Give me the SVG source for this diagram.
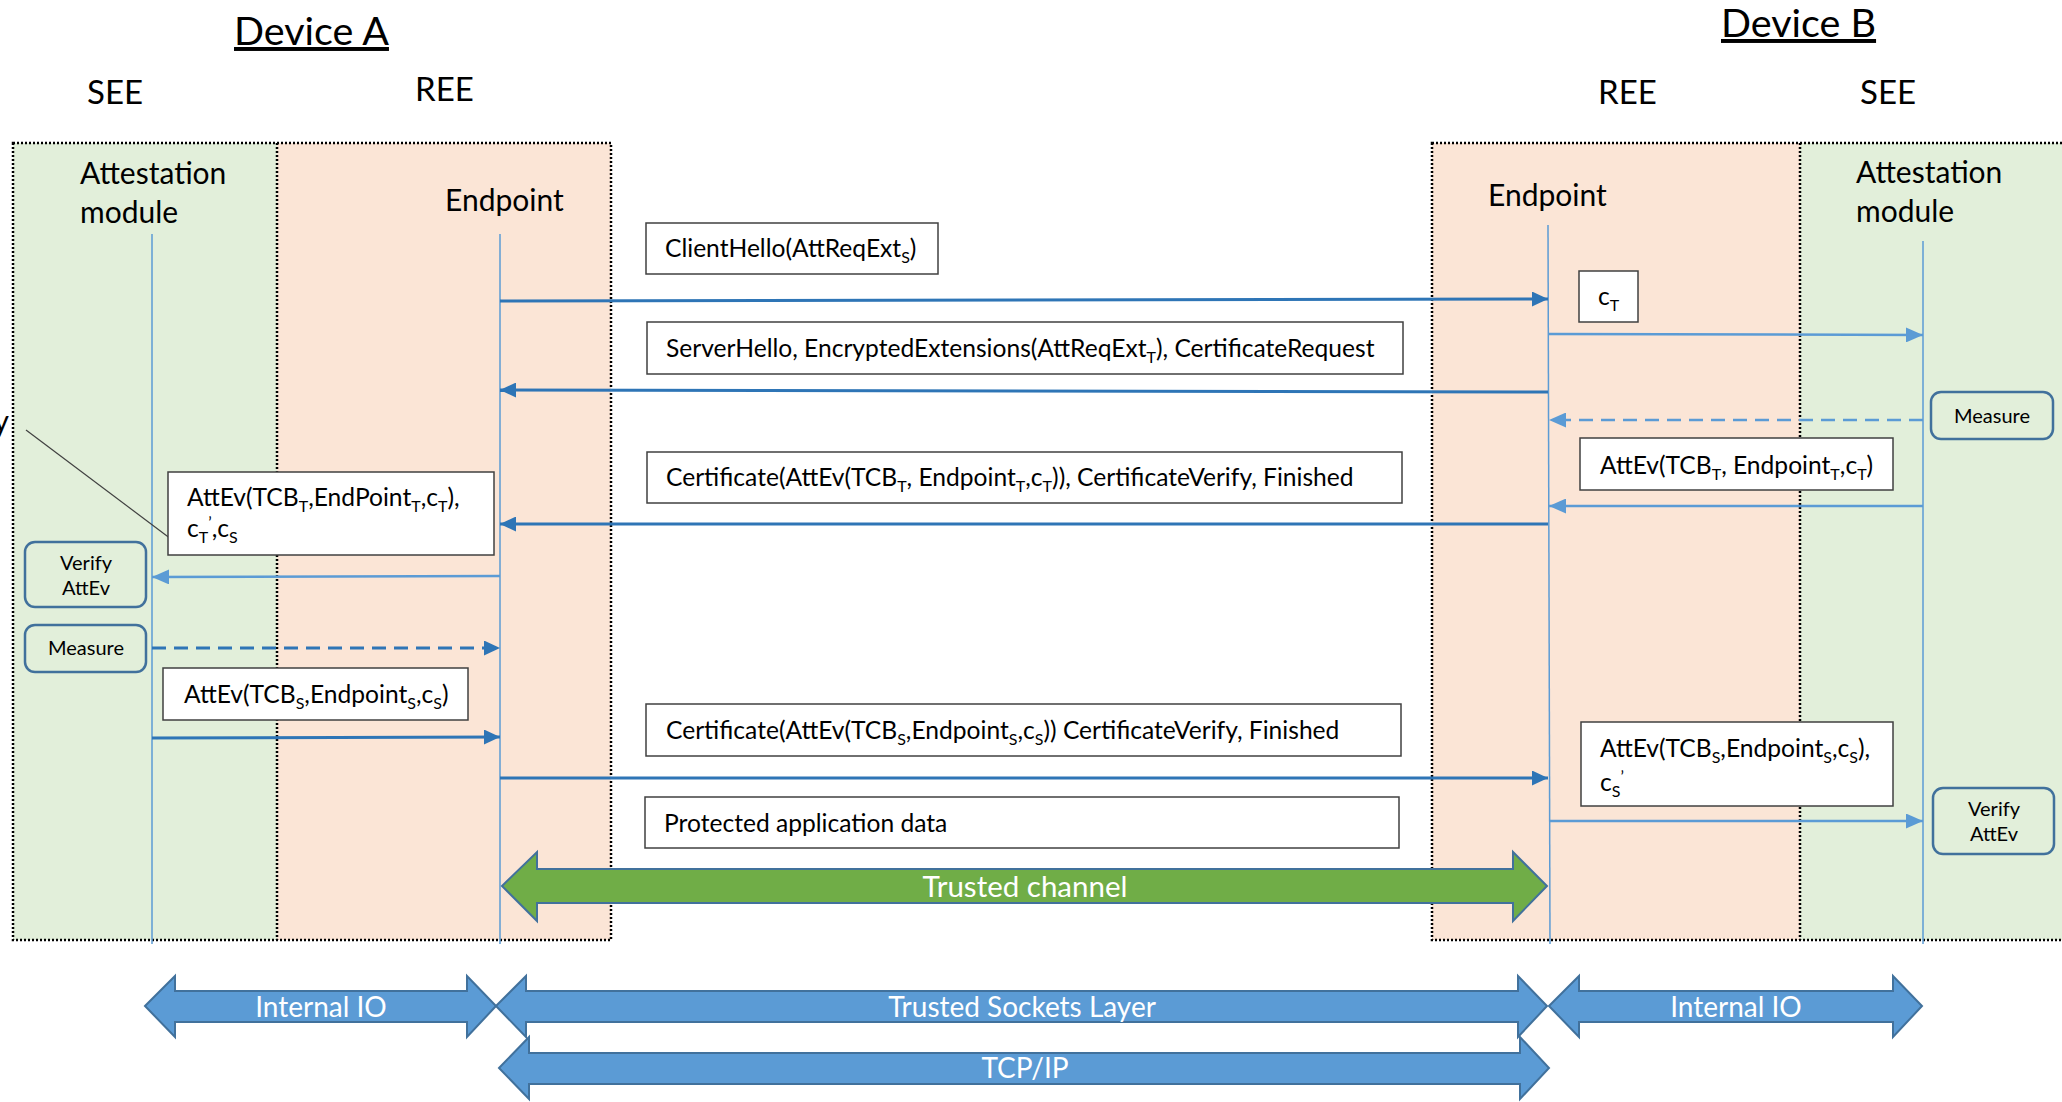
<svg xmlns="http://www.w3.org/2000/svg" width="2062" height="1102" viewBox="0 0 2062 1102">
<style>
text { font-family: Lato, "Open Sans", "Liberation Sans", sans-serif; fill: #000; }
.msg { font-size: 24.6px; }
.sub { font-size: 16px; }
.hdr { font-size: 33px; }
.dev { font-size: 39.5px; }
.lbl { font-size: 30px; }
.sm { font-size: 20px; }
.wt { fill: #fff; font-size: 28px; }
.box { fill: #fff; stroke: #404040; stroke-width: 1.5; }
.rbox { fill: #E2EFDA; stroke: #41719C; stroke-width: 2.5; }
.life { stroke: #5B9BD5; stroke-width: 1.5; fill: none; }
.dk { stroke: #2E75B6; stroke-width: 3; fill: none; }
.lt { stroke: #5B9BD5; stroke-width: 2.5; fill: none; }
.dash { stroke-dasharray: 14 8; }
.zone { fill: none; stroke: #000; stroke-width: 2.5; stroke-dasharray: 2 2; }
.big { fill: #5B9BD5; stroke: #41719C; stroke-width: 2; }
.grn { fill: #70AD47; stroke: #41719C; stroke-width: 2; }
</style>
<defs>
<marker id="ahDk" markerUnits="userSpaceOnUse" markerWidth="17" markerHeight="15" refX="16" refY="7.5" orient="auto">
<path d="M0,0 L16,7.5 L0,15 z" fill="#2E75B6"/>
</marker>
<marker id="ahLt" markerUnits="userSpaceOnUse" markerWidth="18" markerHeight="15" refX="17" refY="7.5" orient="auto">
<path d="M0,0 L17,7.5 L0,15 z" fill="#5B9BD5"/>
</marker>
</defs>

<g id="zones">
<rect x="13" y="143" width="264" height="797" fill="#E2EFDA"/>
<rect x="277" y="143" width="334" height="797" fill="#FBE5D6"/>
<rect x="13" y="143" width="598" height="797" class="zone"/>
<line x1="277" y1="143" x2="277" y2="940" class="zone"/>
<rect x="1432" y="143" width="368" height="797" fill="#FBE5D6"/>
<rect x="1800" y="143" width="270" height="797" fill="#E2EFDA"/>
<rect x="1432" y="143" width="650" height="797" class="zone"/>
<line x1="1800" y1="143" x2="1800" y2="940" class="zone"/>
</g>

<g id="headers">
<text x="234" y="45" class="dev" text-decoration="underline">Device A</text>
<text x="1721" y="37" class="dev" text-decoration="underline">Device B</text>
<text x="87" y="104" class="hdr">SEE</text>
<text x="415" y="101" class="hdr">REE</text>
<text x="1598" y="104" class="hdr">REE</text>
<text x="1860" y="104" class="hdr">SEE</text>
</g>

<g id="lifelines">
<g id="attA"><text x="80" y="184" class="lbl">Attestation</text><text x="80" y="223" class="lbl">module</text><line x1="152" y1="234" x2="152" y2="944" class="life"/></g>
<g id="epA"><text x="445" y="211" class="lbl">Endpoint</text><line x1="500" y1="234" x2="500" y2="944" class="life"/></g>
<g id="epB"><text x="1488" y="206" class="lbl">Endpoint</text><line x1="1548" y1="225" x2="1550" y2="944" class="life"/></g>
<g id="attB"><text x="1856" y="183" class="lbl">Attestation</text><text x="1856" y="222" class="lbl">module</text><line x1="1923" y1="241" x2="1923" y2="944" class="life"/></g>
</g>

<g id="connectors">
<line x1="500" y1="301" x2="1548" y2="299" class="dk" marker-end="url(#ahDk)"/>
<line x1="1548" y1="334" x2="1923" y2="335" class="lt" marker-end="url(#ahLt)"/>
<line x1="1548" y1="392" x2="500" y2="390" class="dk" marker-end="url(#ahDk)"/>
<line x1="1923" y1="420" x2="1549" y2="420" class="lt dash" marker-end="url(#ahLt)"/>
<line x1="1923" y1="506" x2="1549" y2="506" class="lt" marker-end="url(#ahLt)"/>
<line x1="1548" y1="524" x2="500" y2="524" class="dk" marker-end="url(#ahDk)"/>
<line x1="500" y1="576" x2="152" y2="577" class="lt" marker-end="url(#ahLt)"/>
<line x1="152" y1="648" x2="500" y2="648" class="dk dash" marker-end="url(#ahDk)"/>
<line x1="152" y1="738" x2="500" y2="737" class="dk" marker-end="url(#ahDk)"/>
<line x1="500" y1="778" x2="1548" y2="778" class="dk" marker-end="url(#ahDk)"/>
<line x1="1549" y1="821" x2="1923" y2="821" class="lt" marker-end="url(#ahLt)"/>
<line x1="26" y1="430" x2="171" y2="539" stroke="#404040" stroke-width="1.2"/>
</g>

<text x="9" y="432" class="lbl" text-anchor="end">y</text>

<g id="msg-clienthello">
<rect x="646" y="223" width="292" height="51" class="box"/>
<text x="665" y="257" class="msg">ClientHello(AttReqExt<tspan class="sub" baseline-shift="-6">S</tspan>)</text>
</g>
<g id="msg-ct">
<rect x="1579" y="271" width="59" height="51" class="box"/>
<text x="1598" y="305" class="msg">c<tspan class="sub" baseline-shift="-6">T</tspan></text>
</g>
<g id="msg-serverhello">
<rect x="647" y="322" width="756" height="52" class="box"/>
<text x="666" y="357" class="msg">ServerHello, EncryptedExtensions(AttReqExt<tspan class="sub" baseline-shift="-6">T</tspan>), CertificateRequest</text>
</g>
<g id="measureB">
<rect x="1931" y="392" width="122" height="47" rx="10" class="rbox"/>
<text x="1992" y="423" class="sm" text-anchor="middle">Measure</text>
</g>
<g id="msg-attevT-B">
<rect x="1580" y="438" width="313" height="52" class="box"/>
<text x="1600" y="474" class="msg">AttEv(TCB<tspan class="sub" baseline-shift="-6">T</tspan>, Endpoint<tspan class="sub" baseline-shift="-6">T</tspan>,c<tspan class="sub" baseline-shift="-6">T</tspan>)</text>
</g>
<g id="msg-attevT-A">
<rect x="168" y="472" width="326" height="83" class="box"/>
<text x="187" y="506" class="msg">AttEv(TCB<tspan class="sub" baseline-shift="-6">T</tspan>,EndPoint<tspan class="sub" baseline-shift="-6">T</tspan>,c<tspan class="sub" baseline-shift="-6">T</tspan>),</text>
<text x="187" y="537" class="msg">c<tspan class="sub" baseline-shift="-6">T</tspan><tspan class="sub" baseline-shift="9">’</tspan>,c<tspan class="sub" baseline-shift="-6">S</tspan></text>
</g>
<g id="msg-certT">
<rect x="647" y="452" width="755" height="51" class="box"/>
<text x="666" y="486" class="msg">Certificate(AttEv(TCB<tspan class="sub" baseline-shift="-6">T</tspan>, Endpoint<tspan class="sub" baseline-shift="-6">T</tspan>,c<tspan class="sub" baseline-shift="-6">T</tspan>)), CertificateVerify, Finished</text>
</g>
<g id="verifyA">
<rect x="25" y="542" width="121" height="65" rx="10" class="rbox"/>
<text x="86" y="570" class="sm" text-anchor="middle">Verify</text>
<text x="86" y="595" class="sm" text-anchor="middle">AttEv</text>
</g>
<g id="measureA">
<rect x="25" y="625" width="121" height="47" rx="10" class="rbox"/>
<text x="86" y="655" class="sm" text-anchor="middle">Measure</text>
</g>
<g id="msg-attevS-A">
<rect x="163" y="668" width="305" height="52" class="box"/>
<text x="184" y="703" class="msg">AttEv(TCB<tspan class="sub" baseline-shift="-6">S</tspan>,Endpoint<tspan class="sub" baseline-shift="-6">S</tspan>,c<tspan class="sub" baseline-shift="-6">S</tspan>)</text>
</g>
<g id="msg-certS">
<rect x="646" y="704" width="755" height="52" class="box"/>
<text x="666" y="739" class="msg">Certificate(AttEv(TCB<tspan class="sub" baseline-shift="-6">S</tspan>,Endpoint<tspan class="sub" baseline-shift="-6">S</tspan>,c<tspan class="sub" baseline-shift="-6">S</tspan>)) CertificateVerify, Finished</text>
</g>
<g id="msg-attevS-B">
<rect x="1581" y="722" width="312" height="84" class="box"/>
<text x="1600" y="757" class="msg">AttEv(TCB<tspan class="sub" baseline-shift="-6">S</tspan>,Endpoint<tspan class="sub" baseline-shift="-6">S</tspan>,c<tspan class="sub" baseline-shift="-6">S</tspan>),</text>
<text x="1600" y="791" class="msg">c<tspan class="sub" baseline-shift="-6">S</tspan><tspan class="sub" baseline-shift="9">’</tspan></text>
</g>
<g id="verifyB">
<rect x="1933" y="788" width="121" height="66" rx="10" class="rbox"/>
<text x="1994" y="816" class="sm" text-anchor="middle">Verify</text>
<text x="1994" y="841" class="sm" text-anchor="middle">AttEv</text>
</g>
<g id="msg-protected">
<rect x="645" y="797" width="754" height="51" class="box"/>
<text x="664" y="832" class="msg">Protected application data</text>
</g>

<g id="trusted-channel">
<polygon points="502,886 537,852 537,869 1513,869 1513,852 1547,886 1513,921 1513,903 537,903 537,921" class="grn"/>
<text x="1025" y="897" class="wt" style="font-size:29.5px" text-anchor="middle">Trusted channel</text>
</g>

<g id="internal-io-A">
<polygon points="145,1006 175,976 175,991 467,991 467,976 496,1006 467,1037 467,1022 175,1022 175,1037" class="big"/>
<text x="321" y="1017" class="wt" text-anchor="middle">Internal IO</text>
</g>
<g id="tsl">
<polygon points="496,1006 526,976 526,991 1518,991 1518,976 1547,1006 1518,1037 1518,1022 526,1022 526,1037" class="big"/>
<text x="1022" y="1017" class="wt" text-anchor="middle">Trusted Sockets Layer</text>
</g>
<g id="internal-io-B">
<polygon points="1549,1006 1579,976 1579,991 1893,991 1893,976 1922,1006 1893,1037 1893,1022 1579,1022 1579,1037" class="big"/>
<text x="1736" y="1017" class="wt" text-anchor="middle">Internal IO</text>
</g>
<g id="tcpip">
<polygon points="499,1068 529,1037 529,1053 1520,1053 1520,1037 1549,1068 1520,1099 1520,1084 529,1084 529,1099" class="big"/>
<text x="1025" y="1078" class="wt" text-anchor="middle">TCP/IP</text>
</g>
</svg>
